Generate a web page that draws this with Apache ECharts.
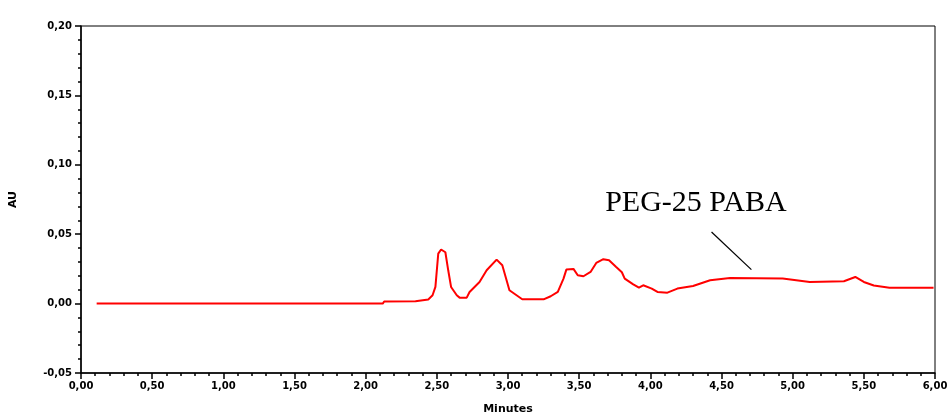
<!DOCTYPE html>
<html>
<head>
<meta charset="utf-8">
<script src="https://cdn.jsdelivr.net/npm/echarts@6/dist/echarts.min.js"></script>
<style>
  html, body { margin: 0; padding: 0; background: #fff; }
  #chart { width: 950px; height: 413px; }
</style>
</head>
<body>
<div id="chart"></div>
<script>
// chromatogram trace (minutes, AU)
const times = [0.11, 2.12, 2.13, 2.35, 2.44, 2.47, 2.49, 2.51, 2.53, 2.56, 2.58, 2.60, 2.64, 2.66, 2.71,
  2.73, 2.80, 2.85, 2.92, 2.96, 2.99, 3.01, 3.06, 3.10, 3.25, 3.30, 3.35, 3.39, 3.41, 3.46, 3.49,
  3.53, 3.58, 3.62, 3.67, 3.71, 3.76, 3.80, 3.82, 3.88, 3.92, 3.95, 4.01, 4.05, 4.12, 4.19, 4.30,
  4.42, 4.56, 4.93, 5.12, 5.36, 5.44, 5.50, 5.57, 5.68, 5.99]
const values = [0.000, 0.000, 0.0015, 0.0017, 0.003, 0.006, 0.012, 0.036, 0.039, 0.037, 0.024, 0.012, 0.006, 0.0043, 0.0043,
  0.0084, 0.0156, 0.024, 0.0317, 0.0276, 0.0168, 0.0096, 0.006, 0.0031, 0.0031, 0.0053, 0.0084, 0.018, 0.0245, 0.025, 0.0204,
  0.0197, 0.0228, 0.0293, 0.032, 0.0312, 0.0264, 0.0226, 0.018, 0.0139, 0.0115, 0.0132, 0.0108, 0.0084, 0.0079, 0.0108, 0.0127,
  0.0168, 0.0185, 0.018, 0.0156, 0.0161, 0.0192, 0.0156, 0.013, 0.0115, 0.0115]

const peakLabel = 'PEG-25 PABA'
const labelAt = [4.32, 0.0727]
const pointerFrom = [4.43, 0.0516]
const pointerTo = [4.71, 0.0245]

const fmt = v => v.toFixed(2).replace('.', ',')
const axisFont = { fontFamily: 'DejaVu Sans', fontSize: 10, fontWeight: 'bold', color: '#000' }
const nameFont = Object.assign({}, axisFont, { fontSize: 11 })

const chart = echarts.init(document.getElementById('chart'))
chart.setOption({
  animation: false,
  grid: {
    left: 81, right: 15, top: 26, bottom: 40,
    outerBoundsMode: 'none',
    show: true, borderColor: '#000', borderWidth: 1
  },
  xAxis: {
    type: 'value',
    min: 0, max: 6, interval: 0.5,
    name: 'Minutes',
    nameLocation: 'middle',
    nameGap: 31,
    nameTextStyle: nameFont,
    axisLine: { onZero: false, lineStyle: { color: '#000', width: 1.5 } },
    axisTick: { length: 6, lineStyle: { color: '#000', width: 1.5 } },
    minorTick: { show: true, splitNumber: 5, length: 3, lineStyle: { color: '#000', width: 1.5 } },
    axisLabel: Object.assign({ formatter: fmt, margin: 8 }, axisFont),
    splitLine: { show: false }
  },
  yAxis: {
    type: 'value',
    min: -0.05, max: 0.2, interval: 0.05,
    name: 'AU',
    nameLocation: 'middle',
    nameGap: 62,
    nameTextStyle: nameFont,
    axisLine: { onZero: false, lineStyle: { color: '#000', width: 1.5 } },
    axisTick: { length: 6, lineStyle: { color: '#000', width: 1.5 } },
    minorTick: { show: true, splitNumber: 5, length: 3, lineStyle: { color: '#000', width: 1.5 } },
    axisLabel: Object.assign({ formatter: fmt, margin: 9 }, axisFont),
    splitLine: { show: false }
  },
  series: [{
    type: 'line',
    data: times.map((t, i) => [t, values[i]]),
    showSymbol: false,
    lineStyle: { color: '#ff0000', width: 2 },
    markPoint: {
      symbol: 'circle',
      symbolSize: 1,
      itemStyle: { color: 'rgba(0,0,0,0)' },
      silent: true,
      data: [{
        coord: labelAt,
        label: { show: true, formatter: peakLabel, fontFamily: 'Liberation Serif', fontSize: 30, color: '#000', position: 'inside' }
      }]
    },
    markLine: {
      symbol: 'none',
      silent: true,
      label: { show: false },
      lineStyle: { color: '#000', width: 1.2, type: 'solid' },
      data: [[{ coord: pointerFrom }, { coord: pointerTo }]]
    }
  }]
})
</script>
</body>
</html>
